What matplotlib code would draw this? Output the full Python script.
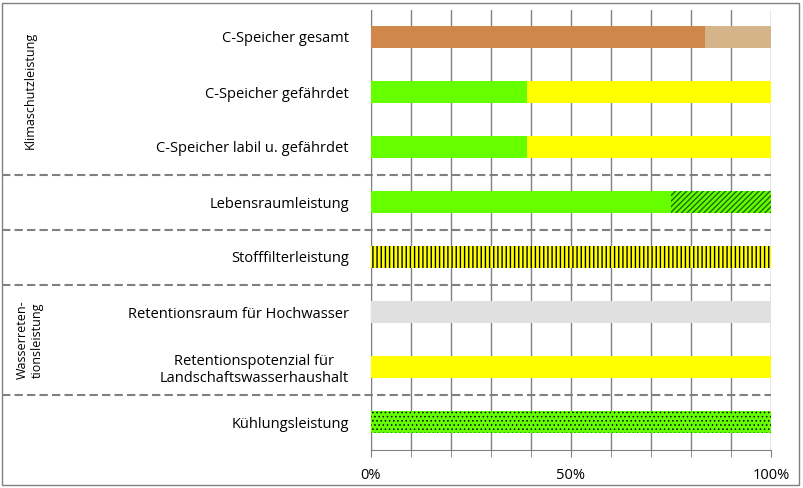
import matplotlib
matplotlib.use("Agg")
import matplotlib.pyplot as plt
import matplotlib.transforms as mtransforms

plt.rcParams['font.family'] = 'Open Sans'
plt.rcParams['hatch.linewidth'] = 1.0

categories = ["C-Speicher gesamt", "C-Speicher gefährdet", "C-Speicher labil u. gefährdet",
              "Lebensraumleistung", "Stofffilterleistung", "Retentionsraum für Hochwasser",
              "Retentionspotenzial für\nLandschaftswasserhaushalt", "Kühlungsleistung"]
part1 = [83.5, 39, 39, 75, 100, 100, 100, 100]
part2 = [16.5, 61, 61, 25, 0, 0, 0, 0]
color1 = ["#D0884A", "#66FF00", "#66FF00", "#66FF00", "#FFFF00", "#E0E0E0", "#FFFF00", "#66FF00"]
color2 = ["#D5B48A", "#FFFF00", "#FFFF00", "#66FF00", "#FFFF00", "#E0E0E0", "#FFFF00", "#66FF00"]
hatch1 = [None, None, None, None, "||||", None, None, "...."]
hatch2 = [None, None, None, "//////", None, None, None, None]
xticks = [0, 50, 100]
xticklabels = ["0%", "50%", "100%"]
separators = [2.5, 3.5, 4.5, 6.5]

fig = plt.figure(figsize=(8.04, 4.88), dpi=100)
ax = fig.add_axes([371/804, 1-449.5/488, 400/804, 440/488])
y = list(range(len(categories)))
for i in y:
    if hatch1[i] == "....":
        plt.rcParams['hatch.linewidth'] = 0.6
    ax.barh(i, part1[i], height=0.4, color=color1[i], hatch=hatch1[i], edgecolor="black" if hatch1[i] else color1[i], linewidth=0, zorder=3)
    plt.rcParams['hatch.linewidth'] = 1.0
    if part2[i] > 0:
        ax.barh(i, part2[i], left=part1[i], height=0.4, color=color2[i], hatch=hatch2[i],
                edgecolor="#1E6B00" if hatch2[i] else color2[i], linewidth=0, zorder=3)
ax.set_ylim(len(categories)-0.5, -0.5)
ax.set_xlim(0, 100)
ax.set_xticks(xticks)
ax.set_xticklabels(xticklabels, fontsize=10.5)
ax.set_xticks(range(0, 101, 10), minor=True)
ax.grid(axis='x', which='both', color="#808080", linewidth=1, zorder=0)
ax.set_yticks(y)
ax.set_yticklabels(categories, fontsize=10.5, ha='right', multialignment='center')
ax.tick_params(axis='y', length=0, pad=16)
ax.tick_params(axis='x', which='both', length=5, color="#808080", pad=8)
for s in ["top", "right"]:
    ax.spines[s].set_visible(False)
for s in ["left", "bottom"]:
    ax.spines[s].set_color("#808080")
trans = mtransforms.blended_transform_factory(ax.transAxes, ax.transData)
for sy in separators:
    ax.plot([-0.9225, 1.0], [sy, sy], transform=trans, clip_on=False, color="#808080",
            linestyle=(0, (4, 2)), linewidth=1.5, zorder=4)
fig.text(30/804, 1-90/488, "Klimaschutzleistung", rotation=90, ha='center', va='center', fontsize=9)
fig.text(30/804, 1-340/488, "Wasserreten-\ntionsleistung", rotation=90, ha='center', va='center', fontsize=9, multialignment='center')
fig.patches.append(plt.Rectangle((2/804, 3/488), 797/804, 482/488, transform=fig.transFigure,
                                 fill=False, edgecolor="#808080", linewidth=1))
fig.savefig("out.png", dpi=100)
